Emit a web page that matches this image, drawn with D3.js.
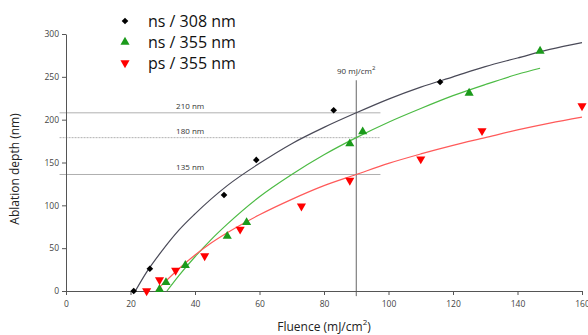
<!DOCTYPE html>
<html>
<head>
<meta charset="utf-8">
<script src="https://cdn.jsdelivr.net/npm/d3@7"></script>
<style>
  body { margin: 0; background: #fff; }
  text { font-family: "Open Sans", "DejaVu Sans", sans-serif; }
</style>
</head>
<body>
<div id="chart"></div>
<script>
// data
var seriesNames = ["ns / 308 nm", "ns / 355 nm", "ps / 355 nm"];

var ns308 = [[21, 0], [26, 26], [49, 112], [59, 153], [83, 211], [116, 244]];
var ns355 = [[29, 2], [31, 10], [37, 30], [50, 64], [56, 80], [88, 172], [92, 186], [125, 231], [147, 280]];
var ps355 = [[25, 0], [29, 13], [34, 24], [43, 41], [54, 72], [73, 99], [88, 129], [110, 154], [129, 187], [160, 216]];

// fitted curves
var fit308 = [[21.5, 0], [25, 22], [30, 48], [35, 71], [40, 90], [50, 123], [60, 149], [70, 172], [80, 191],
  [90, 208], [100, 224], [110, 238], [120, 250], [130, 262], [140, 272], [150, 282], [160, 290]];
var fit355 = [[31.3, 0], [35, 18], [40, 40], [45, 60], [50, 78], [60, 110], [70, 136], [80, 159], [90, 179],
  [100, 197], [110, 213], [120, 228], [130, 241], [140, 253], [147, 260]];
var fitPs = [[27.9, 0], [30, 8], [35, 26], [40, 42], [45, 56], [50, 68], [60, 89], [70, 107], [80, 123], [90, 136],
  [100, 149], [110, 160], [120, 170], [130, 179], [140, 188], [150, 196], [160, 203]];

var refDepths = [208, 179, 136];
var refLabels = ["210 nm", "180 nm", "135 nm"];
var refFluence = 90;

var xTicks = [0, 20, 40, 60, 80, 100, 120, 140, 160];
var yTicks = [0, 50, 100, 150, 200, 250, 300];

var width = 588, height = 335;
var margin = {top: 34, right: 6, bottom: 44, left: 66};

var svg = d3.select("#chart").append("svg")
  .attr("width", width)
  .attr("height", height);

var x = d3.scaleLinear().domain([0, 160]).range([margin.left, width - margin.right]);
var y = d3.scaleLinear().domain([0, 300]).range([height - margin.bottom, margin.top]);

// reference lines
refDepths.forEach(function(d, i) {
  svg.append("line")
    .attr("x1", x(-2)).attr("x2", x(97.5))
    .attr("y1", y(d)).attr("y2", y(d))
    .attr("stroke", "#b0b0b0")
    .attr("stroke-width", 1)
    .attr("stroke-dasharray", i == 1 ? "2,1" : null);
  svg.append("text")
    .attr("x", x(38.5))
    .attr("y", y(d) - 4)
    .attr("text-anchor", "middle")
    .attr("font-size", "8px")
    .attr("fill", "#333")
    .text(refLabels[i]);
});

svg.append("line")
  .attr("x1", x(refFluence)).attr("x2", x(refFluence))
  .attr("y1", y(246)).attr("y2", y(-6))
  .attr("stroke", "#666")
  .attr("stroke-width", 1);

var lbl = svg.append("text")
  .attr("x", x(refFluence))
  .attr("y", y(246) - 6)
  .attr("text-anchor", "middle")
  .attr("font-size", "8px")
  .attr("fill", "#333");
lbl.append("tspan").text("90 mJ/cm");
lbl.append("tspan").attr("font-size", "6px").attr("dy", -4).text("2");

// axes
var xAxis = svg.append("g")
  .attr("transform", "translate(0," + y(0) + ")")
  .call(d3.axisBottom(x).tickValues(xTicks).tickSize(4).tickSizeOuter(0));
var yAxis = svg.append("g")
  .attr("transform", "translate(" + x(0) + ",0)")
  .call(d3.axisLeft(y).tickValues(yTicks).tickSize(4).tickSizeOuter(0));

[xAxis, yAxis].forEach(function(g) {
  g.selectAll("path, line").attr("stroke", "#555");
  g.selectAll("text").attr("fill", "#444").attr("font-size", "8.5px")
    .style("font-family", "'Open Sans', sans-serif");
});
xAxis.selectAll("text").attr("dy", "1.1em");

// fit lines
var line = d3.line().x(d => x(d[0])).y(d => y(d[1])).curve(d3.curveMonotoneX);
var fits = [[fit308, "#4a4a58"], [fit355, "#4cbb44"], [fitPs, "#ff5a5a"]];
fits.forEach(function(f) {
  svg.append("path")
    .datum(f[0])
    .attr("d", line)
    .attr("fill", "none")
    .attr("stroke", f[1])
    .attr("stroke-width", 1.2);
});

// markers
var markerSpecs = [
  {data: ns308, sym: d3.symbolSquare, size: 22, color: "#000", rot: 45},
  {data: ns355, sym: d3.symbolTriangle, size: 36, color: "#1b9a1b", rot: 0},
  {data: ps355, sym: d3.symbolTriangle, size: 36, color: "#ff0000", rot: 180}
];
markerSpecs.forEach(function(m) {
  svg.append("g").selectAll("path")
    .data(m.data)
    .enter()
    .append("path")
    .attr("d", d3.symbol().type(m.sym).size(m.size))
    .attr("transform", d => "translate(" + x(d[0]) + "," + y(d[1]) + ") rotate(" + m.rot + ")")
    .attr("fill", m.color);
});

// legend
var legend = svg.append("g").attr("transform", "translate(125,21)");
markerSpecs.forEach(function(m, i) {
  legend.append("path")
    .attr("d", d3.symbol().type(m.sym).size(m.size))
    .attr("transform", "translate(0," + (i * 21) + ") rotate(" + m.rot + ")")
    .attr("fill", m.color);
  legend.append("text")
    .attr("x", 23)
    .attr("y", i * 21 + 6)
    .attr("font-size", "16px")
    .attr("fill", "#111")
    .text(seriesNames[i]);
});

// axis titles
svg.append("text")
  .attr("transform", "translate(19," + 169 + ") rotate(-90)")
  .attr("text-anchor", "middle")
  .attr("font-size", "12px")
  .attr("fill", "#222")
  .text("Ablation depth (nm)");

var xt = svg.append("text")
  .attr("x", 324)
  .attr("y", 331)
  .attr("text-anchor", "middle")
  .attr("font-size", "12px")
  .attr("fill", "#222");
xt.append("tspan").text("Fluence (mJ/cm");
xt.append("tspan").attr("font-size", "8px").attr("dy", -6).text("2");
xt.append("tspan").attr("dy", 6).text(")");
</script>
</body>
</html>
